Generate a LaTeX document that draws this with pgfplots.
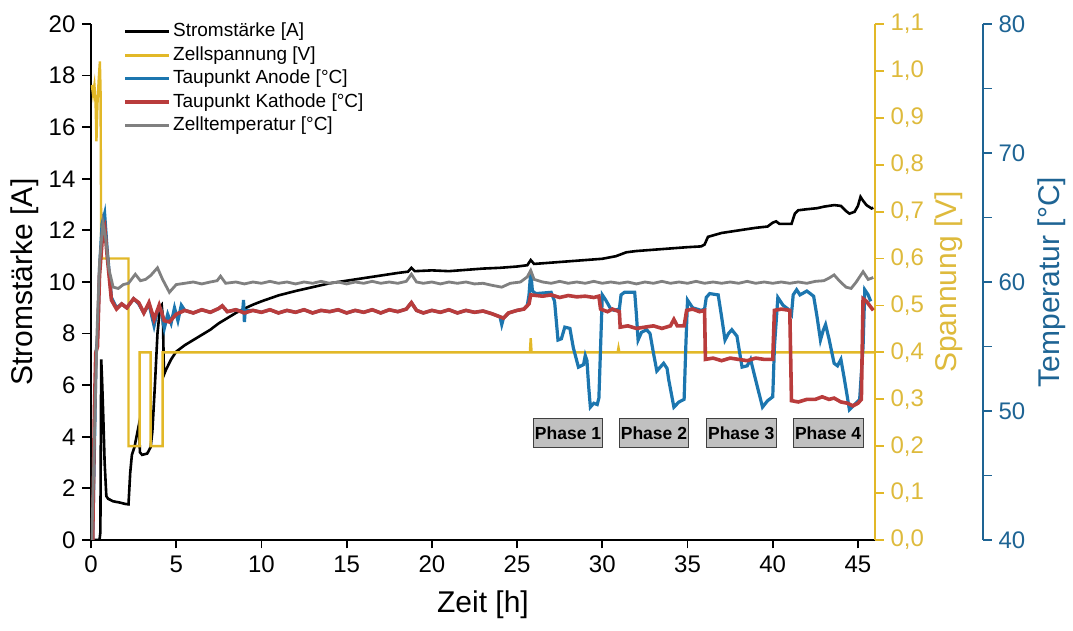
\documentclass[border=0pt]{standalone}
\usepackage{fontspec}
\setmainfont{Liberation Sans}
\usepackage{pgfplots}
\usepackage{pgfplotstable}
\pgfplotsset{compat=1.18}
\definecolor{yel}{RGB}{226,184,40}
\definecolor{yeltxt}{RGB}{222,186,60}
\definecolor{blu}{RGB}{28,118,175}
\definecolor{blutxt}{RGB}{30,100,148}
\definecolor{redd}{RGB}{185,60,60}
\definecolor{gry}{RGB}{128,128,128}
\definecolor{phasegray}{RGB}{192,192,192}

\pgfplotstableread{
h A
0 0
0.5 0
0.55 0.3
0.6 7.0
0.65 6.2
0.72 4.8
0.8 3.0
0.9 1.7
1.0 1.6
1.3 1.5
1.7 1.45
2.0 1.4
2.2 1.38
2.3 2.6
2.4 3.3
2.55 3.6
2.7 4.1
2.82 4.5
2.87 3.4
3.0 3.3
3.3 3.35
3.5 3.6
3.6 4.2
3.75 6.0
3.9 8.0
4.05 9.0
4.15 9.1
4.22 8.6
4.28 6.4
4.4 6.6
4.7 7.0
5.0 7.3
5.5 7.55
6.0 7.75
6.5 7.95
7.0 8.15
7.5 8.4
8.0 8.6
8.5 8.8
9.0 8.97
9.5 9.12
10 9.25
11 9.48
12 9.65
13 9.8
14 9.95
15 10.05
16 10.15
17 10.25
18 10.35
18.6 10.4
18.8 10.55
19.0 10.42
20 10.45
21 10.42
22 10.47
23 10.52
24 10.55
25 10.6
25.6 10.65
25.8 10.85
26.0 10.7
27 10.75
28 10.8
29 10.85
30 10.9
30.8 11.0
31.4 11.15
32 11.2
33 11.25
34 11.3
35 11.35
35.8 11.38
36.0 11.45
36.2 11.75
37 11.9
38 12.0
39 12.1
39.7 12.15
40.0 12.3
40.2 12.35
40.4 12.25
41.1 12.25
41.3 12.65
41.5 12.78
42 12.82
42.6 12.86
43 12.92
43.6 12.98
44.0 12.95
44.3 12.75
44.5 12.65
44.8 12.72
45.0 12.95
45.15 13.3
45.3 13.15
45.5 12.98
45.8 12.85
45.9 12.88
}\current

\pgfplotstableread{
h V
0.05 0.97
0.12 0.95
0.2 0.97
0.27 0.93
0.32 0.85
0.38 0.93
0.45 0.98
0.52 1.02
0.56 0.96
0.6 0.62
0.65 0.6
2.2 0.6
2.2 0.2
2.85 0.2
2.85 0.4
3.5 0.4
3.5 0.2
4.2 0.2
4.2 0.4
25.75 0.4
25.8 0.43
25.85 0.4
30.9 0.4
30.95 0.41
31.0 0.4
46 0.4
}\voltage

\pgfplotstableread{
h T
0.1 40
0.2 47
0.3 54.5
0.4 56
0.5 61
0.65 64.5
0.8 65.3
0.95 62.5
1.2 58.8
1.5 58.0
1.8 58.3
2.1 58.0
2.5 58.7
2.8 58.3
3.1 57.6
3.4 58.3
3.7 56.6
3.9 57.8
4.1 57.9
4.3 56.4
4.5 57.5
4.7 56.8
4.9 58.0
5.1 57.0
5.3 58.2
5.5 57.8
6.0 57.6
6.5 57.85
7.0 57.65
7.5 57.95
7.7 58.15
8.0 57.7
8.5 57.85
8.9 57.7
8.95 58.6
9.0 56.9
9.05 57.8
9.5 57.8
10.0 57.65
10.5 57.85
11.0 57.6
11.5 57.8
12.0 57.65
12.5 57.85
13.0 57.6
13.5 57.8
14.0 57.7
14.5 57.85
15.0 57.6
15.5 57.8
16.0 57.65
16.5 57.85
17.0 57.6
17.5 57.85
18.0 57.7
18.5 57.9
18.8 58.4
19.1 57.8
19.5 57.6
20.0 57.8
20.5 57.65
21.0 57.85
21.5 57.6
22.0 57.8
22.5 57.65
23.0 57.75
23.5 57.55
24.0 57.3
24.1 56.7
24.2 57.2
24.5 57.6
25.0 57.8
25.4 57.9
25.6 58.2
25.7 59.0
25.8 60.8
25.9 59.3
26.1 59.1
27.0 59.2
27.2 58.5
27.4 55.5
27.6 55.6
27.8 56.5
28.1 56.4
28.3 54.9
28.6 53.4
28.9 53.6
29.0 54.3
29.1 53.9
29.2 51.9
29.3 50.3
29.5 50.6
29.7 50.5
29.8 51.0
29.9 55.0
30.0 59.0
30.2 58.6
30.5 57.9
30.7 57.8
31.0 57.9
31.1 59.0
31.3 59.2
31.9 59.2
32.0 57.5
32.1 55.5
32.3 56.1
32.6 56.3
32.8 56.0
33.0 54.5
33.2 53.1
33.4 53.4
33.6 53.7
33.8 53.3
33.9 52.4
34.2 50.3
34.5 50.7
34.8 50.9
34.9 55.0
35.0 58.6
35.3 58.0
35.8 57.8
36.0 57.9
36.1 58.8
36.3 59.1
36.8 59.0
37.0 57.3
37.2 55.5
37.4 56.0
37.6 56.3
37.9 55.8
38.2 53.4
38.5 53.5
38.7 54.0
39.0 52.4
39.4 50.3
39.7 50.8
40.0 51.1
40.1 55.0
40.3 58.8
40.6 58.2
40.9 57.9
41.1 57.5
41.2 59.0
41.4 59.4
41.6 59.0
42.0 59.3
42.4 58.9
42.6 57.3
42.8 55.5
42.95 56.2
43.1 56.7
43.3 55.6
43.6 53.7
43.8 53.5
44.0 54.0
44.2 52.5
44.5 50.1
44.8 50.5
45.1 50.9
45.3 55.0
45.4 59.4
45.6 59.0
45.75 58.5
}\anode

\pgfplotstableread{
h T
0.1 40
0.2 50
0.28 54.5
0.38 55.0
0.5 60.5
0.7 64.0
0.8 64.3
0.95 62.0
1.2 58.6
1.5 57.9
1.8 58.3
2.1 58.0
2.5 58.7
2.8 58.4
3.1 57.6
3.4 58.4
3.7 57.1
4.0 58.2
4.3 57.0
4.6 56.9
5.0 57.5
5.5 57.8
6.0 57.6
6.5 57.85
7.0 57.65
7.5 57.95
7.7 58.15
8.0 57.7
8.5 57.85
9.0 57.6
9.5 57.8
10.0 57.65
10.5 57.85
11.0 57.6
11.5 57.8
12.0 57.65
12.5 57.85
13.0 57.6
13.5 57.8
14.0 57.7
14.5 57.85
15.0 57.6
15.5 57.8
16.0 57.65
16.5 57.85
17.0 57.6
17.5 57.85
18.0 57.7
18.5 57.9
18.8 58.4
19.1 57.8
19.5 57.6
20.0 57.8
20.5 57.65
21.0 57.85
21.5 57.6
22.0 57.8
22.5 57.65
23.0 57.75
23.5 57.55
24.0 57.3
24.2 57.2
24.5 57.6
25.0 57.8
25.4 57.9
25.7 58.3
25.8 59.0
26.5 58.9
27.0 59.0
27.5 58.8
28.0 58.95
28.5 58.85
29.0 58.9
29.5 58.8
29.8 58.9
29.9 57.9
30.3 57.7
30.6 57.9
31.0 57.7
31.05 56.5
31.5 56.6
32.0 56.4
32.5 56.5
33.0 56.6
33.5 56.4
34.0 56.6
34.2 57.1
34.4 56.6
34.8 56.6
34.95 57.8
35.3 57.9
35.7 57.7
36.0 57.8
36.05 54.0
36.5 54.1
37.0 53.9
37.5 54.1
38.0 54.0
38.5 53.9
39.0 54.1
39.5 54.0
40.0 54.0
40.1 57.8
40.5 57.9
41.0 57.8
41.1 50.8
41.5 50.7
42.0 50.9
42.5 50.9
42.9 51.1
43.3 50.9
43.6 51.0
44.0 50.7
44.4 50.6
44.7 50.4
45.0 50.6
45.2 50.9
45.3 58.7
45.5 58.5
45.9 57.8
}\kathode

\pgfplotstableread{
h T
0.05 40
0.2 48
0.35 56
0.5 61.5
0.7 64.6
0.85 63.5
1.05 61.0
1.3 59.6
1.6 59.5
1.9 59.8
2.2 59.9
2.6 60.6
2.9 60.1
3.2 60.2
3.5 60.5
3.9 61.1
4.2 60.2
4.6 59.2
5.0 59.8
5.5 59.9
6.0 60.0
6.5 59.85
7.0 60.0
7.4 60.1
7.6 60.45
7.9 59.9
8.5 60.0
9.0 59.85
9.5 60.0
10.0 59.9
10.5 60.05
11.0 59.9
11.5 60.0
12.0 59.85
12.5 60.0
13.0 59.9
13.5 60.05
14.0 59.9
14.5 60.0
15.0 59.85
15.5 60.0
16.0 59.9
16.5 60.05
17.0 59.9
17.5 60.0
18.0 59.9
18.5 60.05
18.8 60.6
19.1 60.0
19.5 59.9
20.0 60.0
20.5 59.85
21.0 60.0
21.5 59.9
22.0 60.0
22.5 59.85
23.0 59.9
23.5 59.75
24.1 59.6
24.6 59.9
25.2 60.0
25.6 60.4
25.8 60.9
26.0 60.2
26.5 60.0
27.0 59.9
27.5 60.05
28.0 59.9
28.5 60.0
29.0 59.9
29.5 60.05
30.0 59.9
30.5 60.0
31.0 59.9
31.5 60.0
32.0 59.85
32.5 60.0
33.0 59.9
33.5 60.05
34.0 59.9
34.5 60.0
35.0 59.9
35.5 60.05
36.0 59.9
36.5 60.0
37.0 59.9
37.5 60.0
38.0 59.9
38.5 60.05
39.0 59.9
39.5 60.0
40.0 59.9
40.5 60.0
41.0 59.9
41.5 60.0
42.0 59.9
42.5 60.05
43.0 60.1
43.3 60.3
43.6 60.55
43.9 60.1
44.3 59.6
44.6 59.5
44.9 60.0
45.3 60.8
45.6 60.2
45.9 60.35
}\celltemp

\pgfplotsset{
  every axis/.append style={
    scale only axis, width=392pt, height=258pt,
    xmin=0, xmax=46,
    /pgf/number format/assume math mode=true,
    tick align=outside,
    major tick length=4.25pt,
    minor tick length=4.25pt,
    tick label style={font=\fontsize{12}{14}\selectfont},
    label style={font=\fontsize{15}{18}\selectfont},
  },
}

\begin{document}
\begin{tikzpicture}
\useasboundingbox (-45.5pt,-45.5pt) rectangle (491pt,270pt);

% --- current axis
\begin{axis}[at={(0pt,0pt)}, anchor=south west,
  axis x line*=bottom, axis y line*=left,
  ymin=0, ymax=20, ytick={0,2,...,20}, xtick={0,5,...,45},
  axis line style={-, line width=0.9pt, black},
  tick style={line width=0.9pt, black},
  xlabel={Zeit [h]}, ylabel={Stromstärke [A]},
  xlabel style={at={(axis description cs:0.5,-0.126)}, anchor=center},
  ylabel style={at={(axis description cs:-0.084,0.5)}, anchor=center},
]
\addplot[black, line width=1.3pt] table[x=h, y=A] {\current};
\draw[fill=phasegray, draw=black!75, line width=0.5pt] (axis cs:25.98,3.6) rectangle (axis cs:30.0,4.7);
\draw[fill=phasegray, draw=black!75, line width=0.5pt] (axis cs:30.98,3.6) rectangle (axis cs:35.08,4.7);
\draw[fill=phasegray, draw=black!75, line width=0.5pt] (axis cs:36.1,3.6) rectangle (axis cs:40.2,4.7);
\draw[fill=phasegray, draw=black!75, line width=0.5pt] (axis cs:41.2,3.6) rectangle (axis cs:45.3,4.7);
\node[font=\bfseries\fontsize{8.75}{10}\selectfont] at (axis cs:27.99,4.15) {Phase 1};
\node[font=\bfseries\fontsize{8.75}{10}\selectfont] at (axis cs:33.03,4.15) {Phase 2};
\node[font=\bfseries\fontsize{8.75}{10}\selectfont] at (axis cs:38.15,4.15) {Phase 3};
\node[font=\bfseries\fontsize{8.75}{10}\selectfont] at (axis cs:43.25,4.15) {Phase 4};
\end{axis}

% --- voltage axis
\begin{axis}[at={(0pt,0pt)}, anchor=south west,
  hide x axis, axis y line*=right,
  ymin=0, ymax=1.1, ytick={0,0.1,0.2,0.3,0.4,0.5,0.6,0.7,0.8,0.9,1.0,1.1},
  /pgf/number format/fixed, /pgf/number format/fixed zerofill,
  /pgf/number format/precision=1, /pgf/number format/use comma,
  axis line style={-, line width=0.9pt, yel},
  tick style={line width=0.9pt, yel},
  yticklabel style={text=yeltxt},
  ylabel={Spannung [V]},
  ylabel style={at={(axis description cs:1.0944,0.5)}, anchor=center, text=yeltxt},
]
\addplot[yel, line width=1.2pt] table[x=h, y=V] {\voltage};
\end{axis}

% --- temperature data axis
\begin{axis}[at={(0pt,0pt)}, anchor=south west,
  hide axis, ymin=40, ymax=80,
  legend style={at={(0.041,1.0074)}, anchor=north west, draw=none, fill=none,
    font=\fontsize{9.5}{11}\selectfont, row sep=0.75pt, inner sep=0pt,
    nodes={inner sep=1pt, text height=7pt, text depth=2pt}},
  legend cell align=left,
  legend image code/.code={\draw[#1] (0pt,0pt) -- (22pt,0pt);},
]
\addlegendimage{black, line width=1.5pt}
\addlegendentry{Stromstärke [A]}
\addlegendimage{yel, line width=1.5pt}
\addlegendentry{Zellspannung [V]}
\addplot[blu, line width=1.6pt] table[x=h, y=T] {\anode};
\addlegendentry{Taupunkt Anode [°C]}
\addplot[redd, line width=1.8pt] table[x=h, y=T] {\kathode};
\addlegendentry{Taupunkt Kathode [°C]}
\addplot[gry, line width=1.4pt] table[x=h, y=T] {\celltemp};
\addlegendentry{Zelltemperatur [°C]}
\end{axis}

% --- temperature scale axis
\begin{axis}[at={(446pt,0pt)}, anchor=south east, width=10pt,
  hide x axis, axis y line*=right,
  ymin=40, ymax=80, ytick={40,50,...,80}, minor ytick={45,55,65,75},
  axis line style={-, line width=0.9pt, blutxt},
  tick style={line width=0.9pt, blutxt},
  yticklabel style={text=blutxt},
  ylabel={Temperatur [°C]},
  ylabel style={at={(axis description cs:4.45,0.5)}, anchor=center, text=blutxt},
]
\end{axis}
\end{tikzpicture}
\end{document}
